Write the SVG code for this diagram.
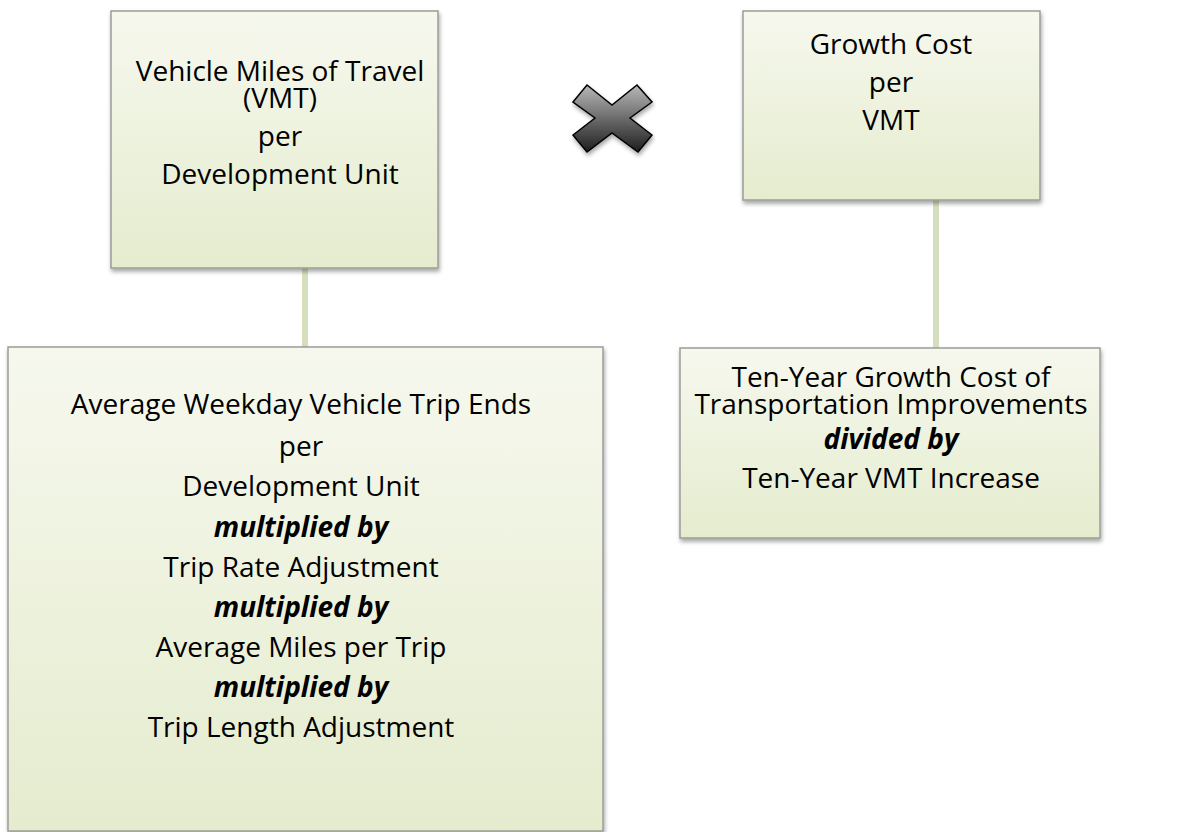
<svg xmlns="http://www.w3.org/2000/svg" width="1187" height="832" viewBox="0 0 1187 832">
<style>
.box{fill:url(#g);stroke:#9c9c98;stroke-width:1.5;filter:url(#sh)}
.t{font-family:"Open Sans",Lato,sans-serif;font-size:28px;fill:#000;text-anchor:middle}
.i{font-weight:bold;font-style:italic}
.c{stroke:#d6dfbd;stroke-width:6;fill:none}
</style>
<defs>
<linearGradient id="g" x1="0" y1="0" x2="0" y2="1">
<stop offset="0" stop-color="#f6f8ee"/>
<stop offset="1" stop-color="#e5ecce"/>
</linearGradient>
<linearGradient id="xg" x1="0" y1="0" x2="0" y2="1">
<stop offset="0" stop-color="#b8b8b8"/>
<stop offset="1" stop-color="#1e1e1e"/>
</linearGradient>
<filter id="sh" x="-5%" y="-5%" width="110%" height="115%">
<feDropShadow dx="1" dy="3" stdDeviation="2" flood-color="#000" flood-opacity="0.35"/>
</filter>
</defs>
<g id="connectors">
<line class="c" x1="305" y1="268" x2="305" y2="347"/>
<line class="c" x1="936" y1="200" x2="936" y2="348"/>
</g>
<g id="vmt-per-unit">
<rect class="box" x="111" y="11" width="327" height="257"/>
<text class="t" x="280" y="81">Vehicle Miles of Travel</text>
<text class="t" x="280" y="108">(VMT)</text>
<text class="t" x="280" y="146">per</text>
<text class="t" x="280" y="184">Development Unit</text>
</g>
<g id="times">
<polygon points="573,102 587,85 612,105 637,85 652,102 630,118 652,135 638,152 612,133 587,152 573,135 595,118" fill="url(#xg)" stroke="#000" stroke-width="1.5" stroke-linejoin="miter" filter="url(#sh)"/>
</g>
<g id="growth-cost">
<rect class="box" x="743" y="11" width="297" height="189"/>
<text class="t" x="891" y="54">Growth Cost</text>
<text class="t" x="891" y="92">per</text>
<text class="t" x="891" y="130">VMT</text>
</g>
<g id="trip-ends">
<rect class="box" x="8" y="347" width="595" height="484"/>
<text class="t" x="301" y="414">Average Weekday Vehicle Trip Ends</text>
<text class="t" x="301" y="456">per</text>
<text class="t" x="301" y="496">Development Unit</text>
<text class="t i" x="301" y="537">multiplied by</text>
<text class="t" x="301" y="577">Trip Rate Adjustment</text>
<text class="t i" x="301" y="617">multiplied by</text>
<text class="t" x="301" y="657">Average Miles per Trip</text>
<text class="t i" x="301" y="697">multiplied by</text>
<text class="t" x="301" y="737">Trip Length Adjustment</text>
</g>
<g id="ten-year">
<rect class="box" x="680" y="348" width="420" height="190"/>
<text class="t" x="891" y="387">Ten-Year Growth Cost of</text>
<text class="t" x="891" y="414">Transportation Improvements</text>
<text class="t i" x="891" y="449">divided by</text>
<text class="t" x="891" y="488">Ten-Year VMT Increase</text>
</g>
</svg>
